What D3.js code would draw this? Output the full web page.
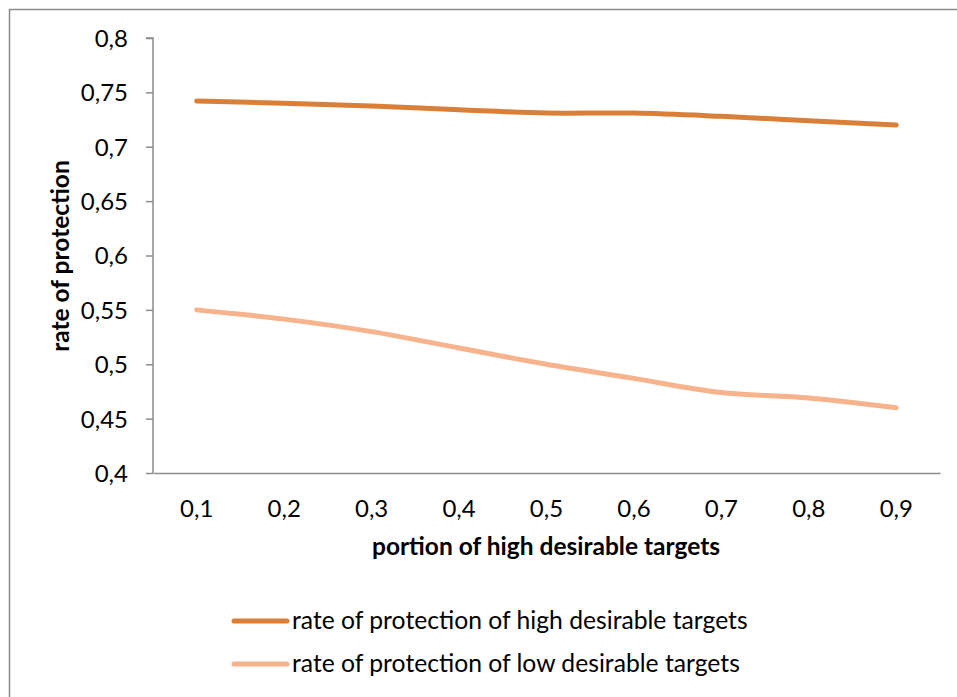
<!DOCTYPE html>
<html><head><meta charset="utf-8">
<script src="https://cdn.jsdelivr.net/npm/d3@7"></script>
<style>body{margin:0;background:#fff}svg{display:block}text{font-family:Lato,"Open Sans",sans-serif;fill:#000}</style>
</head><body><svg id="c" width="957" height="697"></svg>
<script>
const categories = ["0,1","0,2","0,3","0,4","0,5","0,6","0,7","0,8","0,9"];
const highValues = [0.742,0.740,0.7375,0.734,0.731,0.731,0.728,0.724,0.720];
const lowValues = [0.550,0.5415,0.530,0.515,0.500,0.487,0.474,0.469,0.460];
const yTicks = [0.4,0.45,0.5,0.55,0.6,0.65,0.7,0.75,0.8];
const seriesNames = ["rate of protection of high desirable targets","rate of protection of low desirable targets"];
const colors = ["#D97F38","#F7B38C"];

(function(){
const svg = d3.select("#c");
svg.append("rect").attr("x",9.5).attr("y",9.5).attr("width",1000).attr("height",1000)
  .attr("fill","none").attr("stroke","#8c8c8c").attr("stroke-width",1.5);

const pL=153, pR=940, pT=38, pB=473;
const x = d3.scaleBand().domain(categories).range([pL,pR]);
const y = d3.scaleLinear().domain([0.4,0.8]).range([pB,pT]);
const fmt = d => String(+d.toFixed(2)).replace(".",",");

const yAxis = svg.append("g").attr("transform",`translate(${pL},0)`)
  .call(d3.axisLeft(y).tickValues(yTicks).tickSize(7).tickPadding(18).tickFormat(fmt));
yAxis.select(".domain").attr("stroke","#8c8c8c").attr("stroke-width",1.5).attr("d",`M-7,${y(0.8)}H0V${pB}`);
yAxis.selectAll(".tick line").attr("stroke","#8c8c8c").attr("stroke-width",1.5);
yAxis.selectAll("text").attr("font-size",24).attr("dy","0.35em");

const xAxis = svg.append("g").attr("transform",`translate(0,${pB})`)
  .call(d3.axisBottom(x).tickSize(0).tickPadding(44));
xAxis.select(".domain").attr("stroke","#8c8c8c").attr("stroke-width",1.5);
xAxis.selectAll("text").attr("font-size",24).attr("dy","0");

const line = d3.line().x((d,i)=>x(categories[i])+x.bandwidth()/2).y(d=>y(d)).curve(d3.curveCatmullRom.alpha(0.5));
[highValues,lowValues].forEach((vals,k)=>{
  svg.append("path").datum(vals).attr("d",line).attr("fill","none")
    .attr("stroke",colors[k]).attr("stroke-width",5).attr("stroke-linecap","round");
});

svg.append("text").attr("x",546).attr("y",549).attr("text-anchor","middle").attr("dominant-baseline","middle")
  .attr("font-size",24.5).attr("font-weight","bold").text("portion of high desirable targets");
svg.append("text").attr("transform","translate(63,256) rotate(-90)").attr("text-anchor","middle").attr("dominant-baseline","middle")
  .attr("font-size",24.5).attr("font-weight","bold").text("rate of protection");

const legY=[621,664];
seriesNames.forEach((n,k)=>{
  svg.append("line").attr("x1",234).attr("x2",287).attr("y1",legY[k]).attr("y2",legY[k])
    .attr("stroke",colors[k]).attr("stroke-width",5).attr("stroke-linecap","round");
  svg.append("text").attr("x",292).attr("y",legY[k]+2).attr("dominant-baseline","middle")
    .attr("font-size",24.7).text(n);
});
})();
</script></body></html>
